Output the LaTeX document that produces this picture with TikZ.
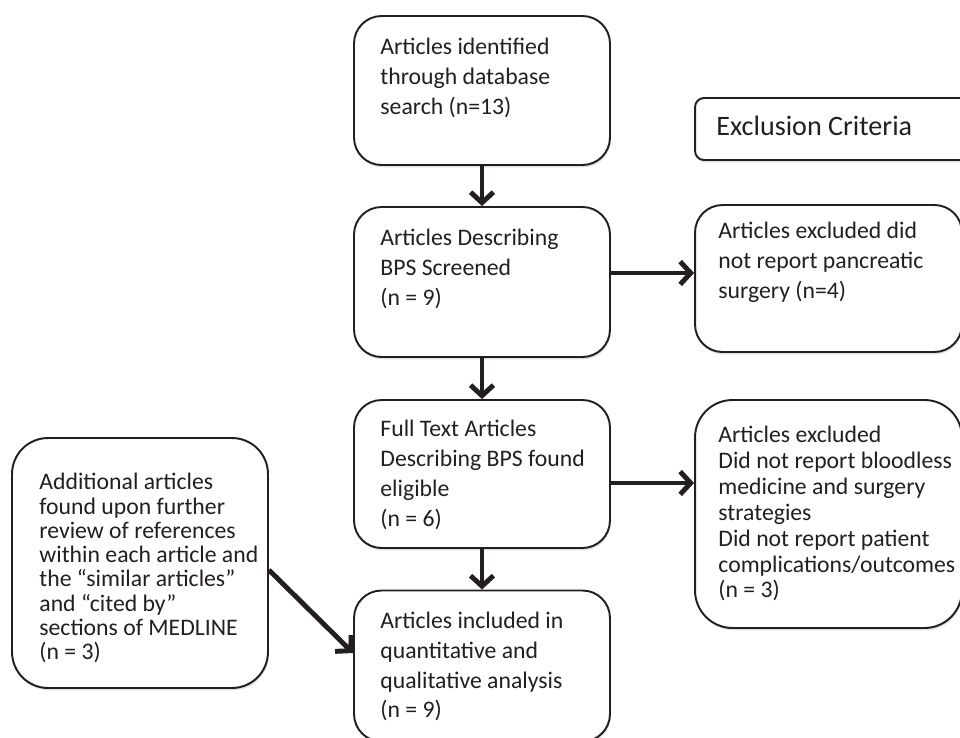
\documentclass[tikz,border=0pt]{standalone}
\usepackage{fontspec}
\setmainfont{Carlito}
\usetikzlibrary{arrows.meta,shadows}

\definecolor{ink}{HTML}{231F20}

\tikzset{
  stagebox/.style={draw=ink, line width=1.1pt, rounded corners=0.55cm, fill=white,
    inner sep=0pt, minimum width=5.12cm,
    drop shadow={shadow xshift=0.5pt, shadow yshift=-1.3pt, opacity=0.25}},
  stagetext/.style={anchor=north west, inner sep=0pt, align=left, text=ink,
    font=\fontsize{13.5}{17}\selectfont},
  flowarrow/.style={draw=ink, line width=2.8pt,
    -{Straight Barb[length=6pt,width=13pt]}}
}

\begin{document}
\begin{tikzpicture}[x=0.02cm, y=-0.02cm]
  \useasboundingbox (0,0) rectangle (960,737);
  \clip (0,0) rectangle (960,737);

  % main column
  \node[stagebox, minimum height=2.98cm] (ident) at (482,90.5) {};
  \node[stagetext] (identtxt) at ([shift={(27,23)}]ident.north west)
    {Articles identified\\through database\\search (n=13)};

  \node[stagebox, minimum height=3cm] (screen) at (482,282) {};
  \node[stagetext] (screentxt) at ([shift={(27,23)}]screen.north west)
    {Articles Describing\\BPS Screened\\(n = 9)};

  \node[stagebox, minimum height=2.96cm] (eligible) at (482,474) {};
  \node[stagetext] (eligibletxt) at ([shift={(27,21)}]eligible.north west)
    {Full Text Articles\\Describing BPS found\\eligible\\(n = 6)};

  \node[stagebox, minimum height=3.02cm] (included) at (482,666) {};
  \node[stagetext] (includedtxt) at ([shift={(27,22)}]included.north west)
    {Articles included in\\quantitative and\\qualitative analysis\\(n = 9)};

  % side boxes
  \node[stagebox, rounded corners=0.72cm, minimum height=5cm] (extra) at (140,563) {};
  \node[stagetext, font=\fontsize{13.5}{13.8}\selectfont] (extratxt)
    at ([shift={(28,36)}]extra.north west)
    {Additional articles\\found upon further\\review of references\\within each article and\\the “similar articles”\\and “cited by”\\sections of MEDLINE\\(n = 3)};

  \node[stagebox, rounded corners=0.18cm, minimum width=6.1cm, minimum height=1.24cm]
    (crit) at (847.5,129) {};
  \node[stagetext, font=\fontsize{16}{19}\selectfont] (crittxt)
    at ([shift={(22,19)}]crit.north west) {Exclusion Criteria};

  \node[stagebox, minimum width=5.34cm, minimum height=2.94cm] (excl1) at (828.5,278.5) {};
  \node[stagetext] (excl1txt) at ([shift={(24,18)}]excl1.north west)
    {Articles excluded did\\not report pancreatic\\surgery (n=4)};

  \node[stagebox, rounded corners=0.75cm, minimum width=5.34cm, minimum height=4.56cm]
    (excl2) at (828.5,514) {};
  \node[stagetext, font=\fontsize{13.5}{14.7}\selectfont] (excl2txt)
    at ([shift={(24,27)}]excl2.north west)
    {Articles excluded\\Did not report bloodless\\medicine and surgery\\strategies\\Did not report patient\\complications/outcomes\\(n = 3)};

  % connectors
  \draw[flowarrow] (ident) -- (screen);
  \draw[flowarrow] (screen) -- (eligible);
  \draw[flowarrow] (eligible) -- (included);
  \draw[flowarrow] ([yshift=0.18cm]screen.east) -- ([yshift=0.18cm]screen.east -| excl1.west);
  \draw[flowarrow] ([yshift=-0.18cm]eligible.east) -- ([yshift=-0.18cm]eligible.east -| excl2.west);
  \draw[flowarrow] ([yshift=-0.14cm]extra.east) -- ([yshift=0.26cm]included.west);
\end{tikzpicture}
\end{document}
